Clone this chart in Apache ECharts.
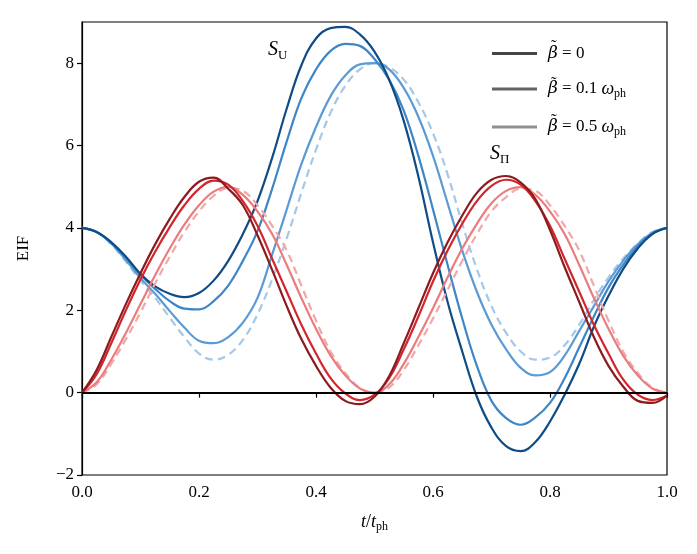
<!DOCTYPE html>
<html>
<head>
<meta charset="utf-8">
<script src="https://cdn.jsdelivr.net/npm/echarts@6/dist/echarts.min.js"></script>
<style>
  html, body { margin: 0; padding: 0; background: #fff; }
  #main { width: 697px; height: 554px; }
</style>
</head>
<body>
<div id="main"></div>
<script>
// time axis t / t_ph
const t = [0, 0.025, 0.05, 0.075, 0.1, 0.125, 0.15, 0.175, 0.2, 0.225, 0.25, 0.275, 0.3, 0.325, 0.35, 0.375, 0.4, 0.425, 0.45, 0.475, 0.5,
           0.525, 0.55, 0.575, 0.6, 0.625, 0.65, 0.675, 0.7, 0.725, 0.75, 0.775, 0.8, 0.825, 0.85, 0.875, 0.9, 0.925, 0.95, 0.975, 1];

// S_U (blue)
const sU_b0 = [4.0, 3.9, 3.65, 3.3, 2.88, 2.58, 2.4, 2.32, 2.42, 2.72, 3.2, 3.85, 4.65, 5.7, 6.9, 7.95, 8.6, 8.85, 8.88, 8.7, 8.28,
               7.6, 6.6, 5.25, 3.65, 2.2, 1.0, -0.1, -0.85, -1.3, -1.42, -1.2, -0.7, -0.05, 0.7, 1.6, 2.35, 3.0, 3.5, 3.85, 4.0];
const sU_b1 = [4.0, 3.9, 3.65, 3.28, 2.86, 2.52, 2.22, 2.04, 2.02, 2.22, 2.6, 3.2, 3.92, 4.95, 6.1, 7.15, 7.85, 8.3, 8.47, 8.42, 8.1,
               7.6, 6.85, 5.75, 4.45, 3.1, 1.8, 0.65, -0.2, -0.62, -0.78, -0.6, -0.25, 0.35, 1.1, 1.85, 2.55, 3.1, 3.55, 3.87, 4.0];
const sU_b5 = [4.0, 3.9, 3.62, 3.22, 2.78, 2.4, 1.98, 1.58, 1.26, 1.2, 1.35, 1.7, 2.3, 3.35, 4.45, 5.55, 6.45, 7.2, 7.7, 7.97, 8.0,
               7.85, 7.4, 6.7, 5.75, 4.6, 3.45, 2.45, 1.65, 1.05, 0.6, 0.42, 0.5, 0.9, 1.5, 2.1, 2.7, 3.2, 3.6, 3.88, 4.0];
const sU_dash = [4.0, 3.9, 3.6, 3.18, 2.72, 2.3, 1.82, 1.35, 0.95, 0.8, 0.92, 1.28, 1.9, 2.75, 3.75, 4.85, 5.9, 6.8, 7.45, 7.85, 8.0,
                 7.9, 7.6, 7.05, 6.3, 5.3, 4.1, 3.0, 2.1, 1.45, 1.0, 0.8, 0.85, 1.15, 1.65, 2.25, 2.8, 3.25, 3.62, 3.9, 4.0];

// S_Pi (red)
const sP_b0 = [0, 0.55, 1.35, 2.15, 2.9, 3.6, 4.22, 4.75, 5.12, 5.22, 4.95, 4.55, 3.82, 2.98, 2.1, 1.3, 0.65, 0.12, -0.2, -0.28, -0.1,
               0.4, 1.2, 2.05, 2.9, 3.65, 4.3, 4.85, 5.17, 5.26, 5.1, 4.7, 3.95, 3.05, 2.2, 1.35, 0.65, 0.15, -0.2, -0.25, -0.07];
const sP_b1 = [0, 0.45, 1.2, 2.0, 2.75, 3.42, 4.02, 4.55, 4.95, 5.15, 5.05, 4.65, 4.05, 3.25, 2.45, 1.65, 0.95, 0.35, -0.02, -0.18, -0.05,
               0.35, 1.05, 1.85, 2.7, 3.45, 4.1, 4.65, 5.02, 5.17, 5.05, 4.65, 4.05, 3.25, 2.45, 1.65, 0.95, 0.32, -0.05, -0.18, -0.07];
const sP_b5 = [0, 0.25, 0.8, 1.45, 2.15, 2.85, 3.5, 4.08, 4.55, 4.88, 5.0, 4.8, 4.4, 3.85, 3.1, 2.3, 1.55, 0.9, 0.42, 0.1, 0.0,
               0.2, 0.7, 1.35, 2.05, 2.8, 3.5, 4.1, 4.6, 4.9, 4.99, 4.8, 4.4, 3.85, 3.1, 2.3, 1.55, 0.9, 0.42, 0.1, 0.0];
const sP_dash = [0, 0.2, 0.7, 1.3, 1.95, 2.65, 3.3, 3.9, 4.4, 4.78, 4.97, 4.9, 4.55, 4.05, 3.45, 2.6, 1.75, 1.0, 0.48, 0.12, 0.0,
                 0.12, 0.55, 1.15, 1.8, 2.5, 3.2, 3.85, 4.4, 4.75, 4.95, 4.9, 4.55, 4.05, 3.45, 2.6, 1.75, 1.0, 0.48, 0.12, 0.0];

const yTicks = [-2, 0, 2, 4, 6, 8];

const serif = "'Liberation Serif', 'DejaVu Serif', serif";

function curve(name, ys, color, dashed) {
    return {
        name: name,
        type: 'line',
        data: t.map((x, i) => [x, ys[i]]),
        showSymbol: false,
        smooth: 0.4,
        silent: true,
        lineStyle: { color: color, width: 2.2, type: dashed ? [8, 5] : 'solid' },
        itemStyle: { color: color }
    };
}

// legend only entries (grey)
function legendOnly(name, color) {
    return { name: name, type: 'line', data: [], lineStyle: { color: color, width: 2.2 }, itemStyle: { color: color } };
}

const legendText = {
    b0: '{g|\u03B2} = 0',
    b1: '{g|\u03B2} = 0.1 {w|\u03C9}{s|ph}',
    b5: '{g|\u03B2} = 0.5 {w|\u03C9}{s|ph}'
};

// tilde accents over beta in the legend
function tilde(top) {
    return { type: 'text', left: 551, top: top, silent: true,
             style: { text: '\u02DC', fontSize: 17, fontFamily: serif, fill: '#000' } };
}

let chart = echarts.init(document.getElementById('main'));
let option = {
    animation: false,
    backgroundColor: '#fff',
    textStyle: { fontFamily: serif, color: '#000' },
    grid: { left: 82, right: 30, top: 22, bottom: 79, show: true, borderColor: '#000', borderWidth: 1.2 },
    xAxis: {
        type: 'value',
        min: 0, max: 1, interval: 0.2,
        axisLine: { lineStyle: { color: '#000', width: 1.2 } },
        axisTick: { length: 5, lineStyle: { color: '#000', width: 1.2 } },
        axisLabel: { color: '#000', fontSize: 17, fontFamily: serif, margin: 9, formatter: v => v.toFixed(1) },
        splitLine: { show: false },
        name: '{i|t}/{i|t}{s|ph}',
        nameLocation: 'middle',
        nameGap: 36,
        nameTextStyle: {
            rich: {
                i: { fontStyle: 'italic', fontSize: 18, fontFamily: serif, lineHeight: 22 },
                s: { fontSize: 12, fontFamily: serif, verticalAlign: 'bottom', lineHeight: 10 }
            },
            fontSize: 18
        }
    },
    yAxis: {
        type: 'value',
        min: -2, max: 9, interval: 2,
        axisLine: { lineStyle: { color: '#000', width: 1.2 } },
        axisTick: { length: 5, lineStyle: { color: '#000', width: 1.2 }, customValues: yTicks },
        axisLabel: { color: '#000', fontSize: 17, fontFamily: serif, margin: 8, customValues: yTicks,
                     formatter: v => v < 0 ? '\u2212' + (-v) : String(v) },
        splitLine: { show: false },
        name: 'EIF',
        nameLocation: 'middle',
        nameGap: 50,
        nameRotate: 90,
        nameTextStyle: { fontSize: 17, fontFamily: serif, color: '#000' }
    },
    legend: {
        orient: 'vertical',
        left: 487,
        top: 40,
        icon: 'rect',
        itemWidth: 45,
        itemHeight: 3,
        itemGap: 18,
        data: ['b0', 'b1', 'b5'],
        formatter: n => legendText[n],
        textStyle: {
            fontSize: 17,
            fontFamily: serif,
            color: '#000',
            padding: [0, 0, 0, 6],
            rich: {
                g: { fontStyle: 'italic', fontSize: 17, fontFamily: "'DejaVu Serif', serif", lineHeight: 22 },
                w: { fontStyle: 'italic', fontSize: 18, fontFamily: serif, lineHeight: 22 },
                s: { fontSize: 12, fontFamily: serif, verticalAlign: 'bottom', lineHeight: 10 }
            }
        }
    },
    graphic: [
        tilde(38), tilde(75), tilde(112),
        {
            type: 'text', left: 268, top: 40,
            style: {
                text: '{i|S}{s|U}',
                rich: {
                    i: { fontStyle: 'italic', fontSize: 20, fontFamily: serif, lineHeight: 24 },
                    s: { fontSize: 13, fontFamily: serif, verticalAlign: 'bottom', lineHeight: 12 }
                }
            }
        },
        {
            type: 'text', left: 490, top: 144,
            style: {
                text: '{i|S}{s|\u03A0}',
                rich: {
                    i: { fontStyle: 'italic', fontSize: 20, fontFamily: serif, lineHeight: 24 },
                    s: { fontSize: 13, fontFamily: serif, verticalAlign: 'bottom', lineHeight: 12 }
                }
            }
        }
    ],
    series: [
        legendOnly('b0', '#454545'),
        legendOnly('b1', '#636363'),
        legendOnly('b5', '#8f8f8f'),
        curve('U dash', sU_dash, '#a5c7e8', true),
        curve('U b5', sU_b5, '#5b9bd5', false),
        curve('U b1', sU_b1, '#3d86c7', false),
        curve('U b0', sU_b0, '#0f4b84', false),
        curve('P dash', sP_dash, '#f2a7a8', true),
        curve('P b5', sP_b5, '#ea7c7e', false),
        curve('P b1', sP_b1, '#d3262c', false),
        Object.assign(curve('P b0', sP_b0, '#8c1b1f', false), {
            markLine: {
                silent: true,
                symbol: 'none',
                label: { show: false },
                lineStyle: { color: '#000', width: 2.2, type: 'solid' },
                data: [{ yAxis: 0 }]
            }
        })
    ]
};
option && chart.setOption(option);
</script>
</body>
</html>
